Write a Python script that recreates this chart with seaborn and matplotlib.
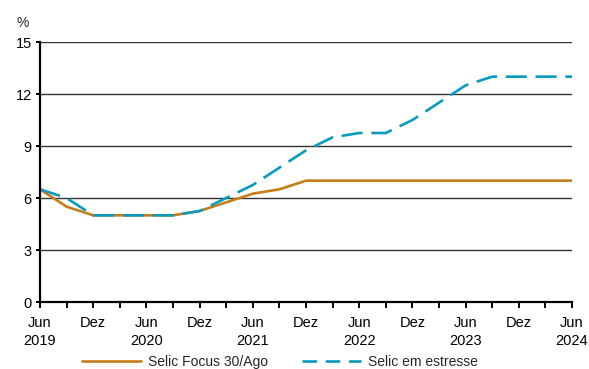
import matplotlib
matplotlib.use("Agg")
import matplotlib.pyplot as plt
import seaborn as sns
import pandas as pd
from matplotlib.lines import Line2D

# ---- data (quarterly, Jun 2019 .. Jun 2024) ----
quarters = list(range(21))
tick_labels = ["Jun\n2019", "", "Dez", "", "Jun\n2020", "", "Dez", "", "Jun\n2021", "",
               "Dez", "", "Jun\n2022", "", "Dez", "", "Jun\n2023", "", "Dez", "", "Jun\n2024"]
selic_focus = [6.5, 5.5, 5.0, 5.0, 5.0, 5.0, 5.25, 5.75, 6.25, 6.5, 7.0,
               7.0, 7.0, 7.0, 7.0, 7.0, 7.0, 7.0, 7.0, 7.0, 7.0]
selic_stress = [6.5, 6.0, 5.0, 5.0, 5.0, 5.0, 5.25, 6.0, 6.75, 7.75, 8.75,
                9.5, 9.75, 9.75, 10.5, 11.5, 12.5, 13.0, 13.0, 13.0, 13.0]
series_names = ["Selic Focus 30/Ago", "Selic em estresse"]
y_ticks = [0, 3, 6, 9, 12, 15]

df = pd.DataFrame({
    "q": quarters * 2,
    "v": selic_focus + selic_stress,
    "s": [series_names[0]] * len(quarters) + [series_names[1]] * len(quarters),
})

sns.set_theme(style="white")
plt.rcParams["font.family"] = ["Liberation Sans", "DejaVu Sans"]

fig = plt.figure(figsize=(5.89, 3.69), dpi=100)
ax = fig.add_axes([40 / 589, 1 - 302 / 369, 532 / 589, 260 / 369])

colors = {series_names[0]: "#C67E1A", series_names[1]: "#0A9AC0"}
sns.lineplot(data=df, x="q", y="v", hue="s", palette=colors, ax=ax,
             legend=False, linewidth=1.9)
ax.lines[1].set_linestyle((0, (8, 3.3)))

ax.set_xlim(0, 20)
ax.set_ylim(0, 15)
ax.set_yticks(y_ticks)
ax.set_yticklabels([str(t) for t in y_ticks], fontsize=10.5)
ax.set_xticks(quarters)
ax.set_xticklabels(tick_labels, fontsize=10.5, linespacing=1.38)
ax.set_xlabel("")
ax.set_ylabel("")

for y in y_ticks[1:]:
    ax.axhline(y, color="#333333", lw=1.0, zorder=0.5)

for s in ["top", "right"]:
    ax.spines[s].set_visible(False)
for s in ["left", "bottom"]:
    ax.spines[s].set_visible(True)
    ax.spines[s].set_color("black")
    ax.spines[s].set_linewidth(1.6)

ax.tick_params(axis="x", direction="out", length=4, width=1.4, color="black",
               bottom=True, pad=6, labelcolor="black")
ax.tick_params(axis="y", direction="out", length=3, width=1.4, color="black",
               left=True, pad=3, labelcolor="black")

fig.text(23 / 589, 1 - 23 / 369, "%", ha="center", va="center", fontsize=10)

handles = [Line2D([], [], color=colors[series_names[0]], lw=1.9),
           Line2D([], [], color=colors[series_names[1]], lw=1.9, linestyle=(0, (5.5, 3.3)))]
fig.legend(handles, series_names, loc="center", bbox_to_anchor=(280 / 589, 1 - 362 / 369),
           ncol=2, frameon=False, fontsize=10, handlelength=4.3, handletextpad=0.5,
           columnspacing=2.4, borderaxespad=0, borderpad=0)

fig.savefig("out.png", dpi=100)
